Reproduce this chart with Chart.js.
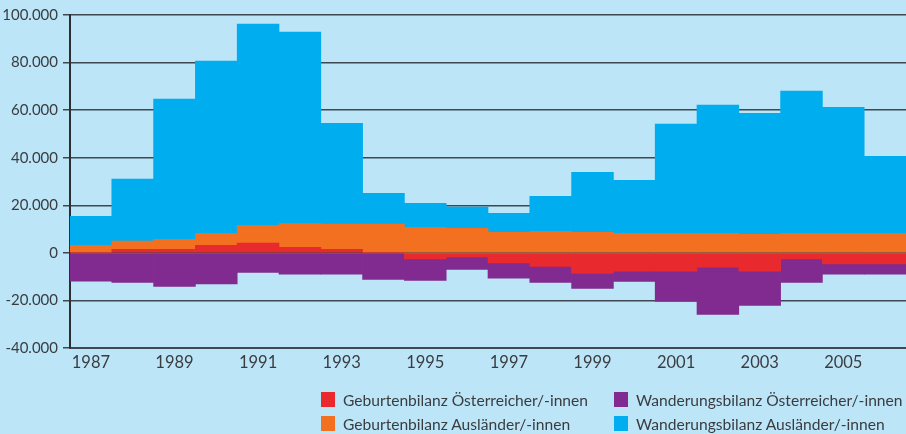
<!DOCTYPE html>
<html>
<head>
<meta charset="utf-8">
<script src="https://cdn.jsdelivr.net/npm/chart.js@4.4.1/dist/chart.umd.min.js"></script>
<style>
  html, body { margin: 0; padding: 0; background: #bde5f8; }
  #wrap { position: relative; width: 906px; height: 434px; overflow: hidden; }
  #legend { position: absolute; left: 321px; top: 392px; display: grid;
    grid-template-columns: 293px 290px; row-gap: 9px;
    font-family: Lato, sans-serif; font-size: 15.6px; color: #3a3d40; }
  #legend div { display: flex; align-items: center; height: 15px; white-space: nowrap; }
  #legend span { display: inline-block; flex-shrink: 0; width: 14px; height: 15px; margin-right: 8px; }
</style>
</head>
<body>
<div id="wrap">
  <canvas id="myChart" width="906" height="434"></canvas>
  <div id="legend"></div>
</div>
<script>
const years = [];
for (let y = 1987; y <= 2006; ++y) {
  years.push(y.toString());
}

// Geburtenbilanz Österreicher/-innen
const birthAut = [0, 1500, 1500, 3200, 4100, 2300, 1500, 0, -2500, -1700,
  -4200, -5700, -8600, -7700, -7700, -6000, -7700, -2500, -4600, -4600];
// Wanderungsbilanz Österreicher/-innen
const migAut = [-11900, -12400, -14100, -13100, -8200, -9000, -9000, -11200, -9100, -5300,
  -6400, -6700, -6400, -4300, -12700, -19900, -14400, -9900, -4400, -4400];
// Geburtenbilanz Ausländer/-innen
const birthFor = [3200, 3400, 4200, 5000, 7500, 10000, 10600, 12100, 10700, 10300,
  8600, 9000, 8600, 8200, 8200, 8200, 7800, 8200, 8200, 8200];
// Wanderungsbilanz Ausländer/-innen
const migFor = [12200, 26100, 58900, 72400, 84600, 80500, 42400, 12900, 10100, 8900,
  8000, 14800, 25300, 22300, 45900, 53900, 50900, 59800, 53000, 32400];

const seriesNames = [
  'Geburtenbilanz Österreicher/-innen',
  'Wanderungsbilanz Österreicher/-innen',
  'Geburtenbilanz Ausländer/-innen',
  'Wanderungsbilanz Ausländer/-innen'
];
const seriesColors = ['#e8292e', '#812a8f', '#f37021', '#00adee'];
const seriesData = [birthAut, migAut, birthFor, migFor];

const fmt = v => (v < 0 ? '-' : '') + String(Math.abs(v)).replace(/\B(?=(\d{3})+(?!\d))/g, '.');
const gridCol = '#3f4850';

const data = {
  labels: years,
  datasets: seriesNames.map((name, i) => ({
    label: name,
    data: seriesData[i],
    backgroundColor: seriesColors[i],
    borderWidth: 0,
    barPercentage: 1,
    categoryPercentage: 1
  }))
};

const config = {
  type: 'bar',
  data: data,
  options: {
    responsive: false,
    animation: false,
    layout: { padding: { top: 15, right: 0, left: 0, bottom: 64 } },
    plugins: {
      legend: { display: false },
      tooltip: { enabled: false }
    },
    scales: {
      x: {
        stacked: true,
        afterFit: s => { s.height = 22; },
        grid: { drawOnChartArea: false, drawTicks: false },
        border: { display: true, color: gridCol, width: 2 },
        ticks: {
          autoSkip: false,
          maxRotation: 0,
          padding: 5,
          color: '#3a3d40',
          font: { family: 'Lato', size: 16.5 },
          callback: function (v, i) { return i % 2 === 0 ? this.getLabelForValue(v) : ''; }
        }
      },
      y: {
        stacked: true,
        min: -40000,
        max: 100000,
        afterFit: s => { s.width = 70; },
        grid: { color: gridCol, lineWidth: 1.5, tickLength: 7, tickColor: gridCol },
        border: { display: true, color: '#2a2f33', width: 2 },
        ticks: {
          stepSize: 20000,
          padding: 5,
          color: '#3a3d40',
          font: { family: 'Lato', size: 15 },
          callback: v => fmt(v)
        }
      }
    }
  }
};

const myChart = new Chart(document.getElementById('myChart'), config);

// legend in two columns: red, purple / orange, cyan
const legend = document.getElementById('legend');
seriesNames.forEach((name, i) => {
  const d = document.createElement('div');
  d.innerHTML = '<span style="background:' + seriesColors[i] + '"></span>' + name;
  legend.appendChild(d);
});
</script>
</body>
</html>
